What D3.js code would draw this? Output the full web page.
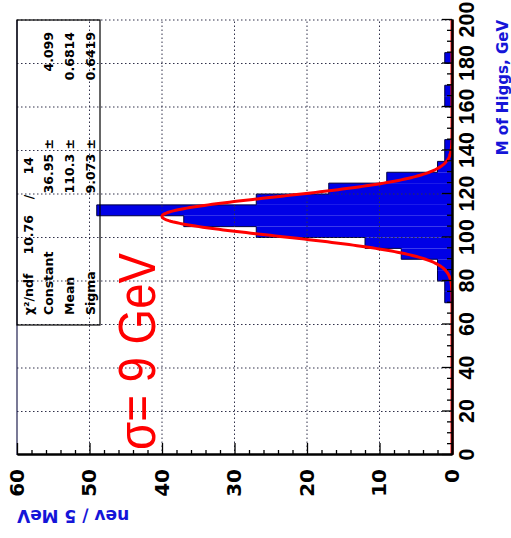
<!DOCTYPE html>
<html>
<head>
<meta charset="utf-8">
<script src="https://cdn.jsdelivr.net/npm/d3@7"></script>
<style>
  body { margin: 0; background: #fff; }
  svg { display: block; }
</style>
</head>
<body>
<div id="wrapper"></div>
<script>
// histogram: lower bin edges (GeV) and entries, 5 GeV bins
const binLow = [60, 65, 70, 75, 80, 85, 90, 95, 100, 105, 110, 115, 120,
                125, 130, 135, 140, 145, 150, 155, 160, 165, 170, 175, 180, 185]
const binCounts = [0, 0, 1, 1, 2, 2, 7, 12, 27, 37, 49, 27, 17,
                   9, 2, 1, 1, 0, 0, 0, 1, 1, 0, 0, 1, 0]
const binWidth = 5

// gaussian fit as drawn
const fitConst = 40
const fitMean = 109.7
const fitSigma = 9.0

// axis ticks
const massTicks = [0, 20, 40, 60, 80, 100, 120, 140, 160, 180, 200]
const countTicks = [0, 10, 20, 30, 40, 50, 60]

// stats box text
const statNames = ["Constant", "Mean", "Sigma"]
const statValues = ["36.95 \u00b1", "110.3 \u00b1", "9.073 \u00b1"]
const statErrors = ["4.099", "0.6814", "0.6419"]
const chi2Text = "10.76"
const ndfText = "14"

function drawChart() {
  // 1. dimensions (chart is drawn upright, then turned 90deg)
  const dimensions = {
    width: 511,
    height: 538,
    boundedWidth: 435,   // mass axis length
    boundedHeight: 435,  // count axis length
  }

  const svg = d3.select('#wrapper')
    .append('svg')
      .attr('width', dimensions.width)
      .attr('height', dimensions.height)

  const bounds = svg.append('g')
      .attr('transform', 'translate(17,455) rotate(-90)')

  // 2. scales
  const xScale = d3.scaleLinear()
    .domain([0, 200])
    .range([0, dimensions.boundedWidth])

  const yScale = d3.scaleLinear()
    .domain([0, 60])
    .range([dimensions.boundedHeight, 0])

  const bins = binLow.map((d, i) => ({ x0: d, x1: d + binWidth, n: binCounts[i] }))

  // 3. histogram
  bounds.append('g')
    .selectAll('rect')
    .data(bins.filter(d => d.n > 0))
    .join('rect')
      .attr('x', d => xScale(d.x0))
      .attr('width', d => xScale(d.x1) - xScale(d.x0))
      .attr('y', d => yScale(d.n))
      .attr('height', d => dimensions.boundedHeight - yScale(d.n))
      .attr('fill', '#0000e6')

  const stepPts = []
  bins.forEach(d => {
    stepPts.push([d.x0, d.n])
    stepPts.push([d.x1, d.n])
  })
  bounds.append('path')
      .attr('d', d3.line().x(d => xScale(d[0])).y(d => yScale(d[1]))(stepPts))
      .attr('fill', 'none')
      .attr('stroke', '#000040')
      .attr('stroke-width', 1)

  // 4. grid
  const grid = bounds.append('g')
      .attr('stroke', '#30304a')
      .attr('stroke-width', 1)
      .attr('stroke-dasharray', '1.5,2.5')
  grid.selectAll('.gx')
    .data(massTicks.slice(1))
    .join('line')
      .attr('x1', d => xScale(d)).attr('x2', d => xScale(d))
      .attr('y1', 0).attr('y2', dimensions.boundedHeight)
  grid.selectAll('.gy')
    .data(countTicks.slice(1, -1))
    .join('line')
      .attr('x1', 0).attr('x2', dimensions.boundedWidth)
      .attr('y1', d => yScale(d)).attr('y2', d => yScale(d))

  // frame at count 60
  bounds.append('line')
      .attr('x1', 0).attr('x2', dimensions.boundedWidth)
      .attr('y1', 0).attr('y2', 0)
      .attr('stroke', '#202050')
      .attr('stroke-width', 1.2)

  // 5. fit curve
  const gauss = m => fitConst * Math.exp(-0.5 * Math.pow((m - fitMean) / fitSigma, 2))
  const curvePts = d3.range(0, 200.01, 0.25).map(m => [m, gauss(m)])
  bounds.append('path')
      .attr('d', d3.line().x(d => xScale(d[0])).y(d => yScale(d[1]))(curvePts))
      .attr('fill', 'none')
      .attr('stroke', '#ff0000')
      .attr('stroke-width', 3)

  // 6. axes
  const massMinor = d3.range(0, 201, 5).filter(d => d % 20 !== 0)
  const countMinor = d3.range(0, 61, 2).filter(d => d % 10 !== 0)

  const massAxis = bounds.append('g')
      .attr('transform', `translate(0,${dimensions.boundedHeight})`)
  massAxis.append('g')
      .call(d3.axisBottom(xScale).tickValues(massMinor).tickSize(-5).tickSizeOuter(0).tickFormat(''))
  massAxis.append('g')
      .attr('class', 'major mass')
      .call(d3.axisBottom(xScale).tickValues(massTicks).tickSize(-10).tickSizeOuter(0).tickPadding(7))

  const countAxis = bounds.append('g')
  countAxis.append('g')
      .call(d3.axisLeft(yScale).tickValues(countMinor).tickSize(-5).tickSizeOuter(0).tickFormat(''))
  countAxis.append('g')
      .attr('class', 'major count')
      .call(d3.axisLeft(yScale).tickValues(countTicks).tickSize(-12).tickSizeOuter(0).tickPadding(14))

  bounds.selectAll('.domain').attr('stroke', '#000').attr('stroke-width', 2)
  bounds.selectAll('.tick line').attr('stroke', '#000').attr('stroke-width', 1.3)
  bounds.selectAll('.count text')
      .attr('font-family', 'DejaVu Sans')
      .attr('font-weight', 'bold')
      .attr('font-size', 20)
      .attr('fill', '#000')
  bounds.selectAll('.mass text')
      .attr('font-family', 'Liberation Sans')
      .attr('font-weight', 'bold')
      .attr('font-size', 21.5)
      .attr('fill', '#000')

  // axis titles
  bounds.append('text')
      .attr('x', dimensions.boundedWidth)
      .attr('y', 491)
      .attr('text-anchor', 'end')
      .attr('font-family', 'DejaVu Sans')
      .attr('font-weight', 'bold')
      .attr('font-size', 15)
      .attr('fill', '#1515d8')
      .text('M of Higgs, GeV')

  bounds.append('text')
      .attr('transform', 'translate(-55,0) rotate(-90)')
      .attr('text-anchor', 'end')
      .attr('font-family', 'DejaVu Sans')
      .attr('font-weight', 'bold')
      .attr('font-size', 17)
      .attr('fill', '#1515d8')
      .text('nev / 5 MeV')

  // 7. stats box
  const stats = bounds.append('g')
      .attr('font-family', 'DejaVu Sans')
      .attr('font-weight', 'bold')
      .attr('font-size', 12.5)
      .attr('fill', '#000')
  stats.append('rect')
      .attr('x', 130).attr('y', 0)
      .attr('width', dimensions.boundedWidth - 130).attr('height', 83)
      .attr('fill', 'none')
      .attr('stroke', '#000')
      .attr('stroke-width', 1.2)

  const rowY = [16, 36, 57, 78]
  stats.append('text').attr('x', 140).attr('y', rowY[0]).text('\u03c7\u00b2/ndf')
  stats.append('text').attr('x', 240).attr('y', rowY[0]).attr('text-anchor', 'end').text(chi2Text)
  stats.append('text').attr('x', 258).attr('y', rowY[0]).attr('text-anchor', 'middle').text('/')
  stats.append('text').attr('x', 298).attr('y', rowY[0]).attr('text-anchor', 'end').text(ndfText)

  statNames.forEach((name, i) => {
    stats.append('text').attr('x', 140).attr('y', rowY[i + 1]).text(name)
    stats.append('text').attr('x', 316).attr('y', rowY[i + 1]).attr('text-anchor', 'end').text(statValues[i])
    stats.append('text').attr('x', 423).attr('y', rowY[i + 1]).attr('text-anchor', 'end').text(statErrors[i])
  })

  // 8. sigma label
  bounds.append('text')
      .attr('x', 5)
      .attr('y', 138)
      .attr('font-family', 'Liberation Sans')
      .attr('font-size', 51)
      .attr('fill', '#ff0000')
      .attr('textLength', 197)
      .attr('lengthAdjust', 'spacingAndGlyphs')
      .text('\u03c3= 9 GeV')
}
drawChart()
</script>
</body>
</html>
